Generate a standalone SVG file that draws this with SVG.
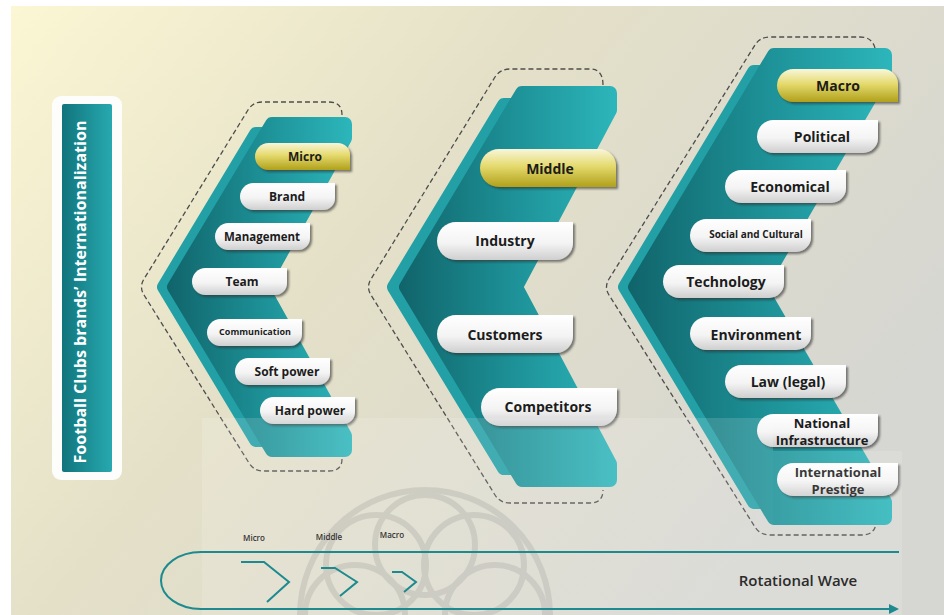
<svg xmlns="http://www.w3.org/2000/svg" xmlns:xlink="http://www.w3.org/1999/xlink" width="944" height="615" viewBox="0 0 944 615">
<defs>
<style>
.lbl{font-family:"Open Sans","Liberation Sans",sans-serif;font-weight:700;fill:#1c1c1c;text-anchor:middle}
.dash{fill:none;stroke:#4d4d4d;stroke-width:1.3;stroke-dasharray:5 3}
.wave{fill:none;stroke:#1d8a8f;stroke-width:2}
.small{font-family:"Open Sans","Liberation Sans",sans-serif;font-weight:600;font-size:8px;fill:#333;text-anchor:middle}
.side{stroke-width:14;stroke-linejoin:round}
</style>
<linearGradient id="bg" x1="0" y1="0" x2="1" y2="0.55">
<stop offset="0" stop-color="#fbf6d3"/>
<stop offset="0.45" stop-color="#e4e0c8"/>
<stop offset="1" stop-color="#d6d6d2"/>
</linearGradient>
<linearGradient id="titleG" x1="0" y1="0" x2="1" y2="0">
<stop offset="0" stop-color="#11747c"/>
<stop offset="1" stop-color="#27a9af"/>
</linearGradient>
<linearGradient id="pillW" x1="0" y1="0" x2="0" y2="1">
<stop offset="0" stop-color="#ffffff"/>
<stop offset="0.55" stop-color="#f4f4f4"/>
<stop offset="1" stop-color="#cfcfcf"/>
</linearGradient>
<linearGradient id="pillG" x1="0" y1="0" x2="0" y2="1">
<stop offset="0" stop-color="#f8f6da"/>
<stop offset="0.45" stop-color="#e5da6e"/>
<stop offset="1" stop-color="#b0a01a"/>
</linearGradient>
<linearGradient id="c1g" gradientUnits="userSpaceOnUse" x1="167" y1="0" x2="352" y2="0">
<stop offset="0" stop-color="#10646a"/>
<stop offset="0.5" stop-color="#1c8f95"/>
<stop offset="1" stop-color="#2cb6bb"/>
</linearGradient>
<linearGradient id="c2g" gradientUnits="userSpaceOnUse" x1="399" y1="0" x2="617" y2="0">
<stop offset="0" stop-color="#10646a"/>
<stop offset="0.5" stop-color="#1c8f95"/>
<stop offset="1" stop-color="#2cb6bb"/>
</linearGradient>
<linearGradient id="c3g" gradientUnits="userSpaceOnUse" x1="628" y1="0" x2="892" y2="0">
<stop offset="0" stop-color="#10646a"/>
<stop offset="0.5" stop-color="#1c8f95"/>
<stop offset="1" stop-color="#2cb6bb"/>
</linearGradient>
<filter id="sh" x="-10%" y="-20%" width="130%" height="160%">
<feDropShadow dx="2" dy="2" stdDeviation="1.2" flood-color="#2a2a2a" flood-opacity="0.6"/>
</filter>
<path id="pill1" d="M13.5,0 H95 V15 A12 12 0 0 1 83,27 H13.5 A13.5 13.5 0 0 1 13.5,0 Z" fill="url(#pillW)" filter="url(#sh)"/>
<path id="gold1" d="M13.5,0 H83 A12 12 0 0 1 95,12 V27 H13.5 A13.5 13.5 0 0 1 13.5,0 Z" fill="url(#pillG)" filter="url(#sh)"/>
<path id="pill2" d="M19,0 H136 V21 A17 17 0 0 1 119,38 H19 A19 19 0 0 1 19,0 Z" fill="url(#pillW)" filter="url(#sh)"/>
<path id="gold2" d="M19,0 H119 A17 17 0 0 1 136,17 V38 H19 A19 19 0 0 1 19,0 Z" fill="url(#pillG)" filter="url(#sh)"/>
<path id="pill3" d="M16.5,0 H121 V18 A15 15 0 0 1 106,33 H16.5 A16.5 16.5 0 0 1 16.5,0 Z" fill="url(#pillW)" filter="url(#sh)"/>
<path id="gold3" d="M16.5,0 H106 A15 15 0 0 1 121,15 V33 H16.5 A16.5 16.5 0 0 1 16.5,0 Z" fill="url(#pillG)" filter="url(#sh)"/>
<marker id="arr" markerWidth="10" markerHeight="10" refX="8" refY="5" orient="auto" markerUnits="userSpaceOnUse" viewBox="0 0 10 10">
<path d="M0,0 L10,5 L0,10 Z" fill="#1d8a8f"/>
</marker>
</defs>

<rect x="0" y="0" width="944" height="615" fill="#ffffff"/>
<rect x="11" y="6" width="933" height="609" fill="url(#bg)"/>

<g id="title">
<rect x="52" y="96" width="70" height="384" rx="9" fill="#fdfdfb"/>
<rect x="62" y="104" width="50" height="368" rx="2" fill="url(#titleG)"/>
<text transform="translate(86,292) rotate(-90)" font-family="'Open Sans','Liberation Sans',sans-serif" font-weight="700" font-size="16" fill="#ffffff" text-anchor="middle" textLength="343" lengthAdjust="spacingAndGlyphs">Football Clubs brands’ Internationalization</text>
</g>

<g id="outlines">
<path class="dash" d="M342,115 Q342,102 329,102 L262,102 Q253,102 248,110 L144,279 Q139,287 144,295 L249,463 Q254,471 263,471 L329,471 Q342,471 342,459"/>
<path class="dash" d="M603,85 Q603,69 590,69 L510,69 Q500,69 495,77 L371,279 Q366,287 371,295 L495,495 Q500,503 510,503 L590,503 Q603,503 603,490"/>
<path class="dash" d="M875,48 Q872,37 860,37 L770,37 Q760,37 755,45 L609,279 Q604,287 609,295 L755,527 Q760,535 770,535 L862,535 Q874,535 876,524"/>
</g>

<g id="chevron-micro">
<polygon class="side" points="164,287 256,134 280,134 240,287 280,440 256,440" fill="#22a0a6" stroke="#22a0a6"/>
<polygon class="side" points="272,124 345,124 345,138 262,287 345,436 345,450 272,450 174,287" fill="url(#c1g)" stroke="url(#c1g)"/>
</g>
<g id="chevron-middle">
<polygon class="side" points="394,287 504,105 540,105 470,287 540,468 504,468" fill="#22a0a6" stroke="#22a0a6"/>
<polygon class="side" points="522,93 610,93 610,110 516,287 610,464 610,480 522,480 406,287" fill="url(#c2g)" stroke="url(#c2g)"/>
</g>
<g id="chevron-macro">
<polygon class="side" points="625,287 754,72 790,72 720,287 790,502 754,502" fill="#22a0a6" stroke="#22a0a6"/>
<polygon class="side" points="774,55 885,55 885,72 760,287 885,502 885,518 774,518 635,287" fill="url(#c3g)" stroke="url(#c3g)"/>
</g>

<g id="n-micro"><use href="#gold1" x="255" y="143"/><text class="lbl" x="305" y="161" font-size="12">Micro</text></g>
<g id="n-brand"><use href="#pill1" x="240" y="183"/><text class="lbl" x="287" y="201" font-size="12">Brand</text></g>
<g id="n-management"><use href="#pill1" x="215" y="223"/><text class="lbl" x="262" y="241" font-size="11.5">Management</text></g>
<g id="n-team"><use href="#pill1" x="192" y="268"/><text class="lbl" x="242" y="286" font-size="12">Team</text></g>
<g id="n-communication"><use href="#pill1" x="207" y="319"/><text class="lbl" x="255" y="335" font-size="9">Communication</text></g>
<g id="n-softpower"><use href="#pill1" x="235" y="358"/><text class="lbl" x="287" y="376" font-size="12">Soft power</text></g>
<g id="n-hardpower"><use href="#pill1" x="260" y="397"/><text class="lbl" x="310" y="415" font-size="12">Hard power</text></g>

<g id="n-middle"><use href="#gold2" x="480" y="149"/><text class="lbl" x="550" y="174" font-size="14">Middle</text></g>
<g id="n-industry"><use href="#pill2" x="437" y="222"/><text class="lbl" x="505" y="246" font-size="14">Industry</text></g>
<g id="n-customers"><use href="#pill2" x="437" y="315"/><text class="lbl" x="505" y="340" font-size="14">Customers</text></g>
<g id="n-competitors"><use href="#pill2" x="481" y="388"/><text class="lbl" x="548" y="412" font-size="14">Competitors</text></g>

<g id="n-macro"><use href="#gold3" x="777" y="69"/><text class="lbl" x="838" y="91" font-size="14">Macro</text></g>
<g id="n-political"><use href="#pill3" x="757" y="120"/><text class="lbl" x="822" y="142" font-size="14">Political</text></g>
<g id="n-economical"><use href="#pill3" x="725" y="170"/><text class="lbl" x="790" y="192" font-size="14">Economical</text></g>
<g id="n-social"><use href="#pill3" x="690" y="219"/><text class="lbl" x="756" y="238" font-size="10">Social and Cultural</text></g>
<g id="n-technology"><use href="#pill3" x="663" y="265"/><text class="lbl" x="726" y="287" font-size="14">Technology</text></g>
<g id="n-environment"><use href="#pill3" x="690" y="317"/><text class="lbl" x="756" y="340" font-size="14">Environment</text></g>
<g id="n-law"><use href="#pill3" x="725" y="365"/><text class="lbl" x="788" y="387" font-size="14">Law (legal)</text></g>
<g id="n-national"><use href="#pill3" x="757" y="414"/><text class="lbl" x="822" y="428" font-size="13">National</text><text class="lbl" x="822" y="445" font-size="13">Infrastructure</text></g>
<g id="n-international"><use href="#pill3" x="777" y="463"/><text class="lbl" x="838" y="477" font-size="13">International</text><text class="lbl" x="838" y="494" font-size="13">Prestige</text></g>

<g id="watermark">
<rect x="202" y="418" width="571" height="197" fill="#ffffff" opacity="0.14"/>
<rect x="773" y="451" width="129" height="164" fill="#ffffff" opacity="0.12"/>
<g fill="none" stroke="#8a8a8a" stroke-width="6" opacity="0.22">
<circle cx="425" cy="615" r="125"/>
<circle cx="495" cy="615" r="50"/>
<circle cx="474" cy="565" r="50"/>
<circle cx="425" cy="545" r="50"/>
<circle cx="376" cy="565" r="50"/>
<circle cx="355" cy="615" r="50"/>
</g>
</g>

<g id="connectors">
<path class="wave" d="M899,552 H201 A40 28.5 0 0 0 201,609 H897" marker-end="url(#arr)"/>
<polyline class="wave" points="241,562 264,562 289,582 267,602"/>
<polyline class="wave" points="321,568 335,568 357,582 340,596"/>
<polyline class="wave" points="392,572 402,572 416,582 404,592"/>
</g>
<g id="wave-labels">
<text class="small" x="254" y="541">Micro</text>
<text class="small" x="329" y="540">Middle</text>
<text class="small" x="392" y="538">Macro</text>
<text x="798" y="586" font-family="'Open Sans','Liberation Sans',sans-serif" font-size="15" font-weight="600" fill="#2b2b2b" text-anchor="middle">Rotational Wave</text>
</g>
</svg>
